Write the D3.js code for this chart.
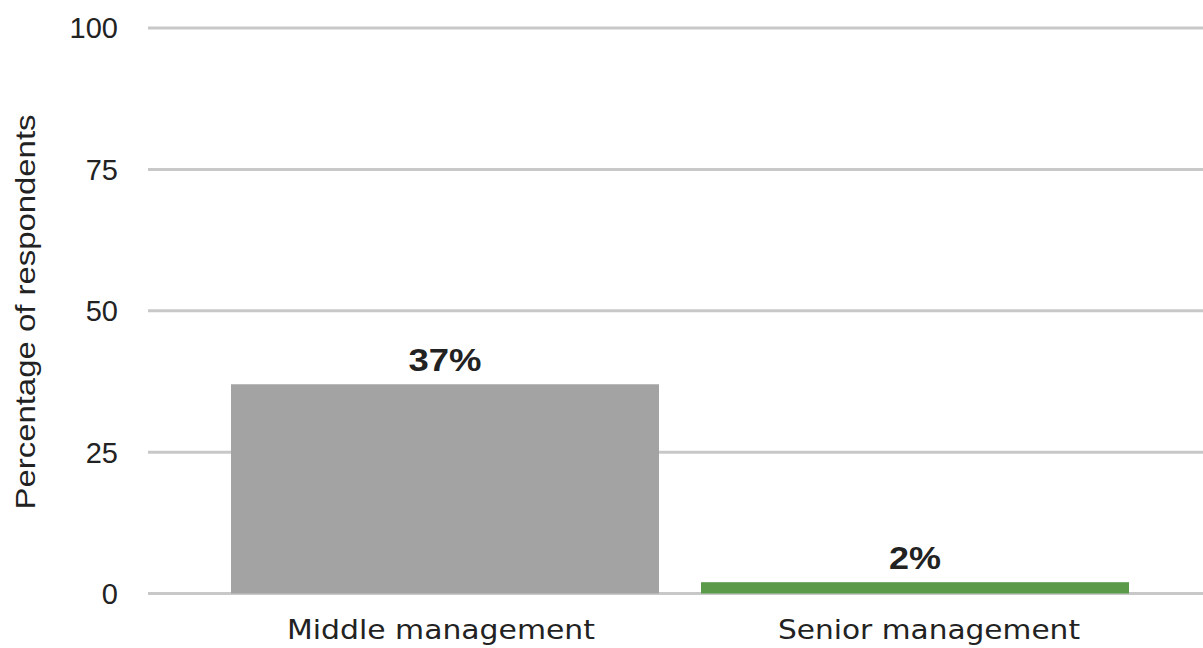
<!DOCTYPE html>
<html>
<head>
<meta charset="utf-8">
<script src="https://cdn.jsdelivr.net/npm/d3@7"></script>
<style>
  body { margin: 0; background: #fff; }
  svg { display: block; }
</style>
</head>
<body>
<div id="chart"></div>
<script>
const categories = ["Middle management", "Senior management"];
const values = [37, 2];
const valueLabels = ["37%", "2%"];
const barColors = ["#a3a3a3", "#5b9a49"];
const yTicks = [0, 25, 50, 75, 100];

const width = 1203;
const height = 648;

const svg = d3.select("#chart")
    .append("svg")
    .attr("width", width)
    .attr("height", height);

const y = d3.scaleLinear()
    .domain([0, 100])
    .range([593.5, 28]);

const x = d3.scaleBand()
    .domain(categories)
    .range([148, 1212])
    .paddingInner(0.0894)
    .paddingOuter(0.1766);

// gridlines
svg.append("g")
    .selectAll("line")
    .data(yTicks)
    .enter()
    .append("line")
    .attr("x1", 148)
    .attr("x2", width)
    .attr("y1", d => y(d))
    .attr("y2", d => y(d))
    .attr("stroke", "#c8c8c8")
    .attr("stroke-width", 3);

// y tick labels
svg.append("g")
    .selectAll("text")
    .data(yTicks)
    .enter()
    .append("text")
    .attr("x", 118)
    .attr("y", d => y(d))
    .attr("dy", "0.36em")
    .attr("text-anchor", "end")
    .attr("font-family", "Liberation Sans, Arial, sans-serif")
    .attr("font-size", 29)
    .attr("fill", "#222")
    .text(d => d);

// y axis title - reference glyphs are wider, so stretch to its length
svg.append("text")
    .attr("transform", `translate(35,312) rotate(-90)`)
    .attr("text-anchor", "middle")
    .attr("font-family", "Liberation Sans, Arial, sans-serif")
    .attr("font-size", 28)
    .attr("textLength", 395)
    .attr("lengthAdjust", "spacingAndGlyphs")
    .attr("fill", "#222")
    .text("Percentage of respondents");

// bars
svg.append("g")
    .selectAll("rect")
    .data(values)
    .enter()
    .append("rect")
    .attr("x", (d, i) => x(categories[i]))
    .attr("width", x.bandwidth())
    .attr("y", d => y(d))
    .attr("height", d => y(0) - y(d))
    .attr("fill", (d, i) => barColors[i]);

// value labels
svg.append("g")
    .selectAll("text")
    .data(values)
    .enter()
    .append("text")
    .attr("x", (d, i) => x(categories[i]) + x.bandwidth() / 2)
    .attr("y", d => y(d) - 13)
    .attr("text-anchor", "middle")
    .attr("font-family", "Liberation Sans, Arial, sans-serif")
    .attr("font-weight", "bold")
    .attr("font-size", 31)
    .attr("textLength", (d, i) => valueLabels[i].length === 3 ? 73 : 52)
    .attr("lengthAdjust", "spacingAndGlyphs")
    .attr("fill", "#222")
    .text((d, i) => valueLabels[i]);

// category labels (the original sits them a bit off the bar centres)
const labelShift = [-4, 14];
const labelLength = [308, 302];
svg.append("g")
    .selectAll("text")
    .data(categories)
    .enter()
    .append("text")
    .attr("x", (d, i) => x(d) + x.bandwidth() / 2 + labelShift[i])
    .attr("y", 639)
    .attr("text-anchor", "middle")
    .attr("font-family", "DejaVu Sans, sans-serif")
    .attr("font-size", 27)
    .attr("textLength", (d, i) => labelLength[i])
    .attr("lengthAdjust", "spacingAndGlyphs")
    .attr("fill", "#222")
    .text(d => d);
</script>
</body>
</html>
